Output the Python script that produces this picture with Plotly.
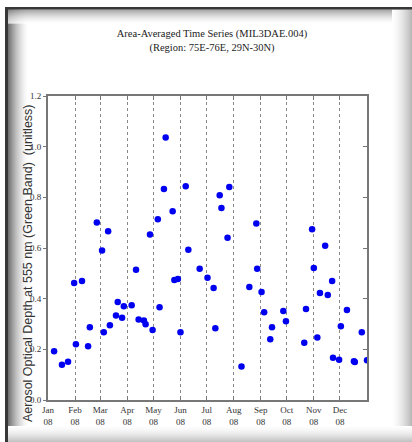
import plotly.graph_objects as go

# Area-averaged aerosol optical depth samples, 2008
dates = [
    "2008-01-08", "2008-01-17", "2008-01-24", "2008-01-31", "2008-02-02",
    "2008-02-09", "2008-02-16", "2008-02-18", "2008-02-26", "2008-03-03",
    "2008-03-05", "2008-03-10", "2008-03-12", "2008-03-19", "2008-03-21",
    "2008-03-26", "2008-03-28", "2008-04-06", "2008-04-11", "2008-04-14",
    "2008-04-20", "2008-04-22", "2008-04-27", "2008-04-30", "2008-05-06",
    "2008-05-08", "2008-05-13", "2008-05-15", "2008-05-23", "2008-05-25",
    "2008-05-29", "2008-06-01", "2008-06-07", "2008-06-10", "2008-06-23",
    "2008-07-02", "2008-07-09", "2008-07-11", "2008-07-16", "2008-07-18",
    "2008-07-25", "2008-07-27", "2008-08-10", "2008-08-19", "2008-08-27",
    "2008-08-28", "2008-09-02", "2008-09-05", "2008-09-12", "2008-09-14",
    "2008-09-27", "2008-09-30", "2008-10-21", "2008-10-23", "2008-10-30",
    "2008-11-01", "2008-11-05", "2008-11-08", "2008-11-14", "2008-11-17",
    "2008-11-22", "2008-11-23", "2008-11-30", "2008-12-02", "2008-12-09",
    "2008-12-17", "2008-12-18", "2008-12-26", "2009-01-01",
]
aod = [
    0.192, 0.139, 0.151, 0.462, 0.220,
    0.470, 0.212, 0.287, 0.701, 0.590,
    0.267, 0.666, 0.295, 0.334, 0.387,
    0.325, 0.370, 0.374, 0.514, 0.318,
    0.314, 0.299, 0.653, 0.276, 0.713,
    0.366, 0.833, 1.036, 0.745, 0.474,
    0.478, 0.267, 0.844, 0.593, 0.518,
    0.483, 0.442, 0.283, 0.808, 0.758,
    0.640, 0.841, 0.132, 0.446, 0.697,
    0.518, 0.426, 0.346, 0.240, 0.287,
    0.351, 0.311, 0.226, 0.359, 0.674,
    0.521, 0.247, 0.422, 0.609, 0.414,
    0.470, 0.167, 0.159, 0.291, 0.355,
    0.153, 0.150, 0.267, 0.157,
]

month_starts = ["2008-%02d-01" % m for m in range(1, 13)]
month_names = ["Jan", "Feb", "Mar", "Apr", "May", "Jun",
               "Jul", "Aug", "Sep", "Oct", "Nov", "Dec"]
month_labels = [f"{m}<br>08" for m in month_names]
y_ticks = [0.0, 0.2, 0.4, 0.6, 0.8, 1.0, 1.2]

W, H = 412, 442
L, R, T, B = 48, 45, 96, 42
PW, PH = W - L - R, H - T - B


def px(x):
    return (x - L) / PW


def py(y):
    return (H - B - y) / PH


fig = go.Figure()
fig.add_trace(go.Scatter(
    x=dates, y=aod, mode="markers",
    marker=dict(color="#0000f0", size=6.5, line=dict(width=0)),
    showlegend=False, hoverinfo="x+y",
))
# companion trace so the right-hand axis carries its own inward ticks
fig.add_trace(go.Scatter(x=[dates[0]], y=[aod[0]], yaxis="y2", mode="markers",
                         marker=dict(opacity=0), showlegend=False, hoverinfo="skip"))

serif = "Liberation Serif, Times New Roman, serif"

fig.update_layout(
    width=W, height=H,
    margin=dict(l=L, r=R, t=T, b=B),
    paper_bgcolor="white", plot_bgcolor="white",
    title=dict(
        text="Area-Averaged Time Series (MIL3DAE.004)<br>(Region: 75E-76E, 29N-30N)",
        x=212 / W, xanchor="center", xref="container",
        y=1 - 37 / H, yanchor="middle", yref="container",
        font=dict(family=serif, size=10.5, color="#222"),
    ),
    xaxis=dict(
        type="date", range=["2008-01-01", "2009-01-01"],
        tickvals=month_starts, ticktext=month_labels,
        tickfont=dict(family=serif, size=9, color="#333"),
        showgrid=True, gridcolor="#888", griddash="dot", gridwidth=1,
        ticks="inside", ticklen=4, tickcolor="#777",
        showline=True, linecolor="#777", linewidth=2, mirror="ticks",
        zeroline=False,
    ),
    yaxis=dict(
        range=[0, 1.2], tickvals=y_ticks, tickformat=".1f",
        tickfont=dict(family=serif, size=9, color="#333"),
        showgrid=False, zeroline=False,
        ticks="outside", ticklen=3, tickcolor="#777",
        showline=True, linecolor="#777", linewidth=2, mirror=True,
    ),
    yaxis2=dict(
        range=[0, 1.2], tickvals=y_ticks, overlaying="y", side="right",
        anchor="x", showticklabels=False, showgrid=False, zeroline=False,
        ticks="inside", ticklen=4, tickcolor="#777", showline=False,
    ),
    annotations=[dict(
        text="Aerosol Optical Depth at 555 nm (Green Band)  (unitless)",
        textangle=-90, xref="paper", yref="paper",
        x=px(28), y=py(263), xanchor="center", yanchor="middle",
        showarrow=False,
        font=dict(family="Liberation Sans, Arial, sans-serif", size=12.5, color="#333"),
    )],
)

# framed border with a soft inner shadow
shapes = []


def strip(xa, xb, ya, yb, gray):
    c = int(255 - gray)
    shapes.append(dict(type="rect", xref="paper", yref="paper",
                       x0=px(xa), x1=px(xb), y0=py(yb), y1=py(ya),
                       fillcolor=f"rgb({c},{c},{c})", line=dict(width=0),
                       layer="below"))


# left shadow
n = 20
for i in range(n):
    g = 140 * (1 - i / n) ** 1.6
    strip(8 + i, 9 + i, 9, H, g)
# top shadow
n = 14
for i in range(n):
    g = 120 * (1 - i / n) ** 1.6
    strip(8, W, 9.5 + i, 10.5 + i, g)
# right shadow
n = 20
for i in range(n):
    g = 70 * ((i + 1) / n) ** 1.6
    strip(W - n + i, W - n + i + 1, 9.5, H, g)
# bottom shadow
n = 16
for i in range(n):
    g = 60 * ((i + 1) / n) ** 1.6
    strip(8, W, H - n + i, H - n + i + 1, g)
# dark frame edges
strip(5, W, 7, 9.5, 200)
strip(5, 8, 7, H, 200)

fig.update_layout(shapes=shapes)
fig.write_html("out.html")
